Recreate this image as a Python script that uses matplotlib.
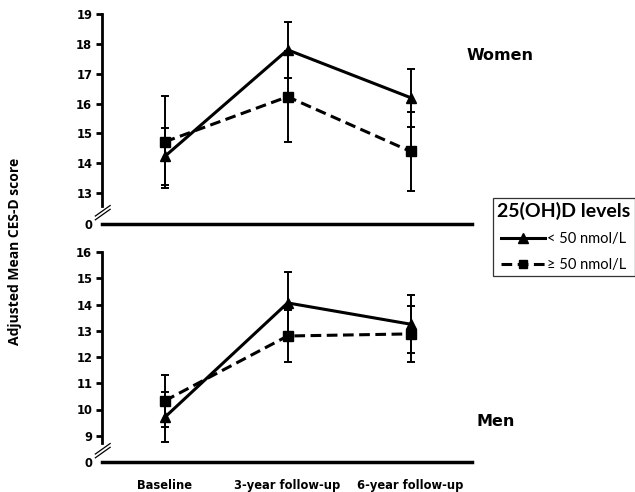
import numpy as np
import matplotlib
matplotlib.use("Agg")
import matplotlib.pyplot as plt
from matplotlib.lines import Line2D

# data
timepoints = ["Baseline", "3-year follow-up", "6-year follow-up"]
group_labels = ["< 50 nmol/L", "\u2265 50 nmol/L"]

women_low = [14.23, 17.8, 16.2]
women_low_err = [0.97, 0.93, 0.97]
women_high = [14.72, 16.23, 14.4]
women_high_err = [1.55, 1.53, 1.33]

men_low = [9.7, 14.06, 13.25]
men_low_err = [0.95, 1.18, 1.1]
men_high = [10.33, 12.8, 12.88]
men_high_err = [1.0, 1.0, 1.06]

women_ticks = [13, 14, 15, 16, 17, 18, 19]
men_ticks = [9, 10, 11, 12, 13, 14, 15, 16]

W, H = 635, 492
DASH = (0, (3.5, 1.8))
TICK_FONT = dict(family="DejaVu Sans", weight="bold", size=8.3)
SANS = ["Open Sans", "DejaVu Sans"]
LEG_FONT = ["Lato", "DejaVu Sans"]


def draw_panel(ax, low, low_err, high, high_err, ticks, zero_pos, break_top):
    x = np.arange(len(timepoints))
    ax.errorbar(x, high, yerr=high_err, color="black", lw=2.2, ls=DASH,
                marker="s", ms=6.5, capsize=3, elinewidth=1.4, capthick=1.4)
    ax.errorbar(x, low, yerr=low_err, color="black", lw=2.2, ls="-",
                marker="^", ms=7, capsize=3, elinewidth=1.4, capthick=1.4)

    ax.set_xlim(-0.51, 2.5)
    ax.set_ylim(zero_pos, ticks[-1])
    ax.set_yticks([zero_pos] + ticks)
    ax.set_yticklabels(["0"] + [str(t) for t in ticks], fontdict=TICK_FONT)
    ax.yaxis.get_major_ticks()[0].tick1line.set_visible(False)
    ax.tick_params(axis="y", direction="out", length=4, width=2, pad=3)

    for s in ["top", "right"]:
        ax.spines[s].set_visible(False)
    ax.spines["left"].set_linewidth(2)
    ax.spines["left"].set_bounds(break_top, ticks[-1])
    ax.spines["bottom"].set_linewidth(2.5)

    # axis break marks
    for dy in (0.0, 0.018):
        ax.plot([-0.018, 0.022], [0.02 + dy, 0.07 + dy], transform=ax.transAxes,
                color="black", lw=0.9, clip_on=False)


fig = plt.figure(figsize=(W / 100, H / 100), dpi=100)
ax_w = fig.add_axes([102 / W, 1 - 224 / H, 370 / W, 210 / H])
ax_m = fig.add_axes([102 / W, 1 - 462 / H, 370 / W, 210 / H])

draw_panel(ax_w, women_low, women_low_err, women_high, women_high_err,
           women_ticks, 11.97, 12.57)
draw_panel(ax_m, men_low, men_low_err, men_high, men_high_err,
           men_ticks, 8.0, 8.73)

ax_w.set_xticks([])
ax_m.set_xticks(np.arange(len(timepoints)))
ax_m.set_xticklabels(timepoints, fontdict=TICK_FONT)
ax_m.tick_params(axis="x", length=0, pad=17)
for lbl in ax_m.get_xticklabels():
    lbl.set_verticalalignment("center")

fig.text(467 / W, 1 - 55 / H, "Women", ha="left", va="center",
         fontsize=11.5, fontweight="bold", family="DejaVu Sans")
fig.text(477 / W, 1 - 422 / H, "Men", ha="left", va="center",
         fontsize=11.5, fontweight="bold", family="DejaVu Sans")
fig.text(15 / W, 1 - 251 / H, "Adjusted Mean CES-D score", rotation=90,
         ha="center", va="center", fontsize=10, fontweight="bold",
         family=SANS)

handles = [
    Line2D([], [], color="black", lw=2.2, ls="-", marker="^", ms=6.5),
    Line2D([], [], color="black", lw=2.2, ls=DASH, marker="s", ms=6),
]
leg = fig.legend(handles, group_labels, title="25(OH)D levels",
                 loc="upper left", bbox_to_anchor=(493 / W, 1 - 198 / H),
                 frameon=True, fancybox=False, edgecolor="black",
                 handlelength=3.0, handletextpad=0.15, borderpad=0.3,
                 labelspacing=0.8, numpoints=1, alignment="center",
                 borderaxespad=0,
                 prop=dict(family=LEG_FONT, size=10.5),
                 title_fontproperties=dict(family=LEG_FONT, weight="bold",
                                           size=14))
leg.get_frame().set_linewidth(0.9)

fig.savefig("out.png", dpi=100)
